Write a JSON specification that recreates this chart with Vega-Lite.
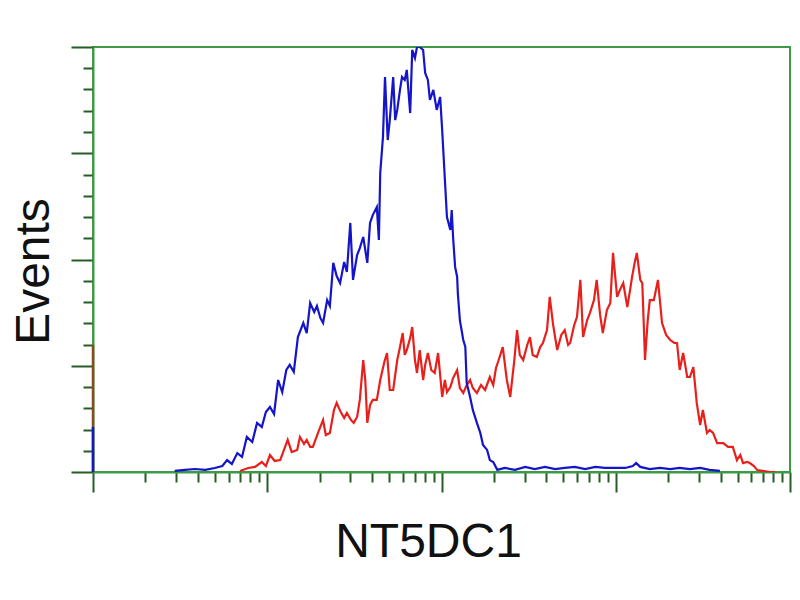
{
  "$schema": "https://vega.github.io/schema/vega-lite/v6.json",
  "width": 697,
  "height": 425,
  "autosize": {"type": "none"},
  "padding": {"left": 93, "top": 47, "right": 10, "bottom": 128},
  "background": "white",
  "config": {"view": {"stroke": "#3f9a45", "strokeWidth": 2}},
  "datasets": {
    "blue": [
      {"c":120,"n":0.5},{"c":135,"n":1},{"c":150,"n":1.4},{"c":165,"n":1},{"c":179,"n":1.9},{"c":190,"n":2.8},{"c":197,"n":5.6},{"c":204,"n":3.8},{"c":212,"n":8.9},{"c":219,"n":7.1},
      {"c":226,"n":16.5},{"c":234,"n":14.1},{"c":241,"n":23.1},{"c":248,"n":21.2},{"c":254,"n":28.2},{"c":260,"n":30.6},{"c":266,"n":27.3},{"c":272,"n":43.3},{"c":278,"n":37.6},{"c":284,"n":48.0},
      {"c":289,"n":50.4},{"c":295,"n":47.1},{"c":301,"n":63.5},{"c":309,"n":70.1},{"c":314,"n":65.4},{"c":319,"n":79.5},{"c":325,"n":75.3},{"c":329,"n":78.1},{"c":334,"n":72.5},{"c":338,"n":70.1},
      {"c":344,"n":80.9},{"c":348,"n":78.1},{"c":353,"n":98.4},{"c":358,"n":92.2},{"c":363,"n":88.9},{"c":369,"n":98.8},{"c":373,"n":94.1},{"c":378,"n":117.2},{"c":382,"n":90.4},{"c":388,"n":102.1},
      {"c":392,"n":105.4},{"c":397,"n":110.6},{"c":403,"n":98.4},{"c":407,"n":117.2},{"c":411,"n":120.9},{"c":417,"n":124.7},{"c":420,"n":109.2},{"c":422,"n":140.7},{"c":426,"n":157.6},{"c":429,"n":185.9},
      {"c":433,"n":156.2},{"c":436,"n":165.6},{"c":441,"n":185.9},{"c":444,"n":165.6},{"c":447,"n":170.4},{"c":451,"n":179.8},{"c":454,"n":185.9},{"c":458,"n":184.5},{"c":461,"n":189.2},{"c":466,"n":168.9},
      {"c":469,"n":198.6},{"c":473,"n":194.8},{"c":476,"n":200},{"c":480,"n":200},{"c":485,"n":198.6},{"c":488,"n":187.8},{"c":492,"n":184.5},{"c":495,"n":175.1},{"c":500,"n":179.8},{"c":505,"n":170.4},
      {"c":510,"n":176.5},{"c":513,"n":160.9},{"c":517,"n":137.4},{"c":520,"n":120.0},{"c":525,"n":113.9},{"c":527,"n":123.3},{"c":529,"n":110.6},{"c":532,"n":96.5},{"c":535,"n":91.8},{"c":536,"n":84.2},
      {"c":539,"n":71.5},{"c":544,"n":62.1},{"c":547,"n":58.8},{"c":549,"n":41.9},{"c":554,"n":35.3},{"c":558,"n":29.2},{"c":564,"n":23.1},{"c":569,"n":18.4},{"c":573,"n":12.7},{"c":579,"n":10.4},
      {"c":583,"n":5.6},{"c":588,"n":4.7},{"c":594,"n":1},{"c":605,"n":1.9},{"c":620,"n":1},{"c":635,"n":2.4},{"c":649,"n":1.4},{"c":664,"n":2.4},{"c":679,"n":1.4},{"c":693,"n":1.9},
      {"c":708,"n":2.4},{"c":723,"n":1.4},{"c":738,"n":2.4},{"c":752,"n":1.9},{"c":767,"n":1.9},{"c":782,"n":1.9},{"c":793,"n":2.8},{"c":798,"n":4.2},{"c":804,"n":2.4},{"c":818,"n":1.4},
      {"c":833,"n":1.9},{"c":848,"n":1.4},{"c":862,"n":1.9},{"c":877,"n":1.4},{"c":892,"n":1.9},{"c":906,"n":1},{"c":921,"n":0.5}
    ],
    "red": [
      {"c":216,"n":0.5},{"c":228,"n":1.9},{"c":238,"n":2.4},{"c":248,"n":4.7},{"c":254,"n":2.8},{"c":260,"n":8.0},{"c":267,"n":5.2},{"c":275,"n":5.6},{"c":281,"n":10.8},{"c":286,"n":15.1},
      {"c":292,"n":9.4},{"c":300,"n":10.4},{"c":304,"n":16.5},{"c":310,"n":13.2},{"c":314,"n":15.1},{"c":319,"n":11.8},{"c":323,"n":11.8},{"c":331,"n":18.8},{"c":338,"n":24.5},{"c":342,"n":17.4},
      {"c":348,"n":18.4},{"c":354,"n":29.2},{"c":358,"n":32.5},{"c":364,"n":28.2},{"c":369,"n":25.4},{"c":373,"n":27.8},{"c":379,"n":24.5},{"c":383,"n":23.1},{"c":388,"n":25.9},{"c":392,"n":33.9},
      {"c":397,"n":52.7},{"c":400,"n":43.3},{"c":403,"n":23.1},{"c":407,"n":31.5},{"c":411,"n":33.9},{"c":417,"n":33.9},{"c":422,"n":43.3},{"c":428,"n":51.8},{"c":432,"n":56.0},{"c":436,"n":38.6},
      {"c":441,"n":38.6},{"c":447,"n":52.7},{"c":451,"n":58.8},{"c":455,"n":65.4},{"c":458,"n":55.1},{"c":461,"n":57.4},{"c":466,"n":63.1},{"c":469,"n":68.2},{"c":473,"n":52.7},{"c":476,"n":46.6},
      {"c":480,"n":57.4},{"c":485,"n":43.3},{"c":488,"n":50.4},{"c":492,"n":56.0},{"c":497,"n":48.0},{"c":502,"n":46.6},{"c":507,"n":56.0},{"c":513,"n":35.3},{"c":517,"n":43.3},{"c":520,"n":37.6},
      {"c":525,"n":40.0},{"c":529,"n":44.2},{"c":535,"n":48.0},{"c":539,"n":39.5},{"c":544,"n":37.2},{"c":549,"n":40.9},{"c":554,"n":43.3},{"c":558,"n":39.5},{"c":564,"n":37.2},{"c":570,"n":40.9},
      {"c":576,"n":38.6},{"c":583,"n":44.7},{"c":588,"n":40.9},{"c":592,"n":48.9},{"c":596,"n":52.7},{"c":602,"n":58.8},{"c":608,"n":43.3},{"c":613,"n":35.3},{"c":619,"n":52.7},{"c":623,"n":66.8},
      {"c":627,"n":55.1},{"c":632,"n":52.7},{"c":638,"n":59.8},{"c":642,"n":63.5},{"c":646,"n":55.1},{"c":652,"n":54.1},{"c":657,"n":58.8},{"c":661,"n":60.7},{"c":667,"n":66.8},{"c":671,"n":82.4},
      {"c":676,"n":69.2},{"c":682,"n":57.4},{"c":688,"n":64.5},{"c":693,"n":66.8},{"c":698,"n":59.8},{"c":701,"n":60.7},{"c":707,"n":69.2},{"c":711,"n":72.9},{"c":716,"n":90.4},{"c":720,"n":63.5},
      {"c":726,"n":71.5},{"c":730,"n":74.8},{"c":736,"n":80.9},{"c":740,"n":90.4},{"c":745,"n":73.9},{"c":749,"n":65.4},{"c":755,"n":76.2},{"c":760,"n":79.5},{"c":764,"n":103.1},{"c":770,"n":82.4},
      {"c":774,"n":85.6},{"c":779,"n":88.9},{"c":785,"n":77.6},{"c":789,"n":85.6},{"c":792,"n":91.8},{"c":796,"n":98.8},{"c":799,"n":103.1},{"c":804,"n":90.4},{"c":807,"n":88.9},{"c":811,"n":52.7},
      {"c":815,"n":71.5},{"c":818,"n":80.9},{"c":824,"n":80.9},{"c":830,"n":90.4},{"c":836,"n":70.1},{"c":842,"n":64.5},{"c":848,"n":62.1},{"c":854,"n":60.7},{"c":858,"n":60.7},{"c":862,"n":48.0},
      {"c":867,"n":56.0},{"c":873,"n":44.7},{"c":877,"n":44.7},{"c":882,"n":49.4},{"c":887,"n":32.5},{"c":892,"n":22.1},{"c":896,"n":29.2},{"c":902,"n":18.4},{"c":906,"n":19.8},{"c":911,"n":18.4},
      {"c":917,"n":13.6},{"c":926,"n":13.6},{"c":933,"n":11.8},{"c":940,"n":11.8},{"c":946,"n":5.6},{"c":951,"n":8.0},{"c":955,"n":4.2},{"c":961,"n":4.7},{"c":965,"n":4.2},{"c":971,"n":2.8},
      {"c":976,"n":0.9},{"c":984,"n":0.5},{"c":995,"n":0},{"c":1002,"n":0}
    ],
    "edge": [
      {"s":"red","c":0,"n":59.8},
      {"s":"blue","c":0,"n":21.2}
    ]
  },
  "encoding": {
    "x": {
      "field": "c",
      "type": "quantitative",
      "scale": {"domain": [0, 1024], "nice": false, "zero": false},
      "axis": {
        "values": [0,77.06,122.14,154.13,178.94,199.21,216.35,231.19,244.29,256,333.06,378.14,410.13,434.94,455.21,472.35,487.19,500.29,512,589.06,634.14,666.13,690.94,711.21,728.35,743.19,756.29,768,845.06,890.14,922.13,946.94,967.21,984.35,999.19,1012.29,1024],
        "labels": false,
        "grid": false,
        "title": "NT5DC1",
        "domainColor": "#3f9a45",
        "domainWidth": 2,
        "tickColor": "#255d25",
        "tickWidth": 2,
        "tickSize": {"condition": {"test": "datum.value % 256 === 0", "value": 20}, "value": 10},
        "titleFont": "Liberation Sans",
        "titleFontSize": 48,
        "titleFontWeight": "normal",
        "titleColor": "#111111",
        "titleX": 335,
        "titleY": 84,
        "titleAlign": "center",
        "titleBaseline": "alphabetic"
      }
    },
    "y": {
      "field": "n",
      "type": "quantitative",
      "scale": {"domain": [0, 200], "nice": false},
      "axis": {
        "values": [0,10,20,30,40,50,60,70,80,90,100,110,120,130,140,150,160,170,180,190,200],
        "labels": false,
        "grid": false,
        "title": "Events",
        "domainColor": "#3f9a45",
        "domainWidth": 2,
        "tickColor": "#255d25",
        "tickWidth": 2,
        "tickSize": {"condition": {"test": "datum.value % 50 === 0", "value": 22}, "value": 10},
        "titleFont": "Liberation Sans",
        "titleFontSize": 48,
        "titleFontWeight": "normal",
        "titleColor": "#111111",
        "titleAngle": -90,
        "titleX": -45,
        "titleY": 224,
        "titleAlign": "center",
        "titleBaseline": "alphabetic"
      }
    }
  },
  "layer": [
    {
      "data": {"name": "red"},
      "mark": {"type": "line", "color": "#e8201c", "strokeWidth": 2.2, "clip": true}
    },
    {
      "data": {"name": "blue"},
      "mark": {"type": "line", "color": "#1414c8", "strokeWidth": 2.2, "clip": true}
    },
    {
      "data": {"name": "edge"},
      "mark": {"type": "rule", "strokeWidth": 2.5},
      "encoding": {
        "y2": {"datum": 0},
        "color": {"field": "s", "type": "nominal", "scale": {"domain": ["red", "blue"], "range": ["#8a4a1e", "#1414c8"]}, "legend": null}
      }
    }
  ]
}
